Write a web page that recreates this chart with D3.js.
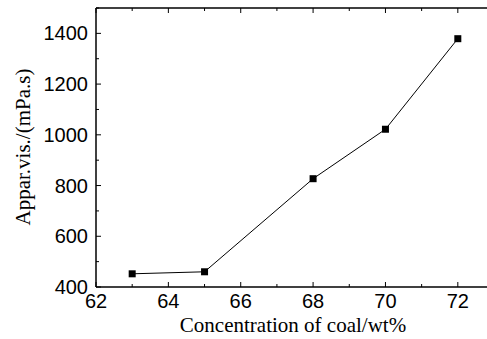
<!DOCTYPE html>
<html>
<head>
<meta charset="utf-8">
<script src="https://cdn.jsdelivr.net/npm/d3@7"></script>
<style>
  body { margin: 0; background: #fff; }
  .tick-label { font-family: "Liberation Sans", Arial, sans-serif; font-size: 20px; fill: #000; }
  .axis-title { font-family: "Liberation Serif", "Times New Roman", serif; font-size: 21px; fill: #000; }
</style>
</head>
<body>
<svg id="chart" width="487" height="339"></svg>
<script>
// concentration of coal (wt%) vs apparent viscosity (mPa.s)
var concentration = [63, 65, 68, 70, 72];
var viscosity = [452, 460, 827, 1022, 1379];
var xTicks = [62, 64, 66, 68, 70, 72];
var xMinorTicks = [63, 65, 67, 69, 71, 73];
var yTicks = [400, 600, 800, 1000, 1200, 1400];
var yMinorTicks = [500, 700, 900, 1100, 1300, 1500];

var svg = d3.select('#chart');

var plotLeft = 96, plotTop = 8, plotRight = 494, plotBottom = 287;

var x = d3.scaleLinear().domain([62, 73]).range([plotLeft, plotRight]);
var y = d3.scaleLinear().domain([400, 1500]).range([plotBottom, plotTop]);

var axes = svg.append('g')
  .attr('stroke', '#000')
  .attr('fill', 'none');

// frame (right side falls outside the picture)
axes.append('line').attr('x1', plotLeft).attr('x2', plotRight).attr('y1', plotBottom).attr('y2', plotBottom).attr('stroke-width', 1.5);
axes.append('line').attr('x1', plotLeft).attr('x2', plotRight).attr('y1', plotTop).attr('y2', plotTop).attr('stroke-width', 1.5);
axes.append('line').attr('x1', plotLeft).attr('x2', plotLeft).attr('y1', plotTop).attr('y2', plotBottom).attr('stroke-width', 1.5);

// inward ticks on bottom and top
function xTickLines(values, len) {
  axes.selectAll(null).data(values).enter().append('line')
    .attr('x1', function(d) { return x(d); })
    .attr('x2', function(d) { return x(d); })
    .attr('y1', plotBottom)
    .attr('y2', plotBottom - len)
    .attr('stroke-width', 1);
  axes.selectAll(null).data(values).enter().append('line')
    .attr('x1', function(d) { return x(d); })
    .attr('x2', function(d) { return x(d); })
    .attr('y1', plotTop)
    .attr('y2', plotTop + len)
    .attr('stroke-width', 1);
}
xTickLines(xTicks, 5);
xTickLines(xMinorTicks, 3);

function yTickLines(values, len) {
  axes.selectAll(null).data(values).enter().append('line')
    .attr('x1', plotLeft)
    .attr('x2', plotLeft + len)
    .attr('y1', function(d) { return y(d); })
    .attr('y2', function(d) { return y(d); })
    .attr('stroke-width', 1);
}
yTickLines(yTicks, 5);
yTickLines(yMinorTicks, 3);

svg.selectAll('text.xl').data(xTicks).enter().append('text')
  .attr('class', 'tick-label xl')
  .attr('x', function(d) { return x(d); })
  .attr('y', plotBottom + 21)
  .attr('text-anchor', 'middle')
  .text(function(d) { return d; });

svg.selectAll('text.yl').data(yTicks).enter().append('text')
  .attr('class', 'tick-label yl')
  .attr('x', plotLeft - 8)
  .attr('y', function(d) { return y(d) + 7; })
  .attr('text-anchor', 'end')
  .text(function(d) { return d; });

// data line + square markers
var line = d3.line()
  .x(function(d, i) { return x(concentration[i]); })
  .y(function(d) { return y(d); });

svg.append('path')
  .datum(viscosity)
  .attr('d', line)
  .attr('fill', 'none')
  .attr('stroke', '#000')
  .attr('stroke-width', 1);

svg.selectAll('rect.mark').data(viscosity).enter().append('rect')
  .attr('class', 'mark')
  .attr('x', function(d, i) { return x(concentration[i]) - 3.5; })
  .attr('y', function(d) { return y(d) - 3.5; })
  .attr('width', 7)
  .attr('height', 7)
  .attr('fill', '#000');

svg.append('text')
  .attr('class', 'axis-title')
  .attr('x', 293)
  .attr('y', 332)
  .attr('text-anchor', 'middle')
  .text('Concentration of coal/wt%');

svg.append('text')
  .attr('class', 'axis-title')
  .attr('transform', 'translate(30,' + 147 + ') rotate(-90)')
  .attr('text-anchor', 'middle')
  .text('Appar.vis./(mPa.s)');
</script>
</body>
</html>
